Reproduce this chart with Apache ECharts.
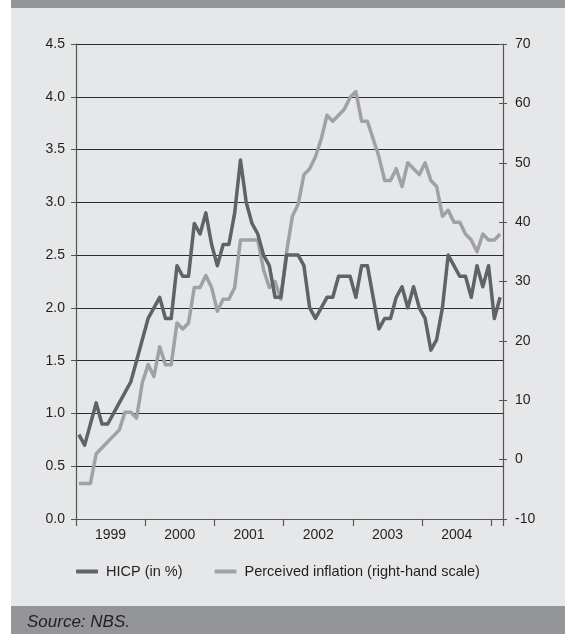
<!DOCTYPE html>
<html>
<head>
<meta charset="utf-8">
<script src="https://cdn.jsdelivr.net/npm/echarts@6/dist/echarts.min.js"></script>
<style>
html,body{margin:0;padding:0;background:#fff;}
#c{width:565px;height:634px;}
</style>
</head>
<body>
<div id="c"></div>
<script>
// Monthly data, Jan 1999 – Feb 2005
const years = [1999, 2000, 2001, 2002, 2003, 2004, 2005];
const months = [];
for (let i = 0; i < 74; i++) {
  const y = 1999 + Math.floor(i / 12);
  const m = (i % 12) + 1;
  months.push(y + '-' + (m < 10 ? '0' + m : m));
}
const hicp = [
  0.8, 0.7, 0.9, 1.1, 0.9, 0.9, 1.0, 1.1, 1.2, 1.3, 1.5, 1.7,
  1.9, 2.0, 2.1, 1.9, 1.9, 2.4, 2.3, 2.3, 2.8, 2.7, 2.9, 2.6,
  2.4, 2.6, 2.6, 2.9, 3.4, 3.0, 2.8, 2.7, 2.5, 2.4, 2.1, 2.1,
  2.5, 2.5, 2.5, 2.4, 2.0, 1.9, 2.0, 2.1, 2.1, 2.3, 2.3, 2.3,
  2.1, 2.4, 2.4, 2.1, 1.8, 1.9, 1.9, 2.1, 2.2, 2.0, 2.2, 2.0,
  1.9, 1.6, 1.7, 2.0, 2.5, 2.4, 2.3, 2.3, 2.1, 2.4, 2.2, 2.4,
  1.9, 2.1
];
const perceived = [
  -4, -4, -4, 1, 2, 3, 4, 5, 8, 8, 7, 13,
  16, 14, 19, 16, 16, 23, 22, 23, 29, 29, 31, 29,
  25, 27, 27, 29, 37, 37, 37, 37, 32, 29, 30, 27,
  35, 41, 43, 48, 49, 51, 54, 58, 57, 58, 59, 61,
  62, 57, 57, 54, 51, 47, 47, 49, 46, 50, 49, 48,
  50, 47, 46, 41, 42, 40, 40, 38, 37, 35, 38, 37,
  37, 38
];
const leftTicks = { min: 0, max: 4.5, interval: 0.5 };
const rightTicks = { min: -10, max: 70, interval: 10 };
const seriesNames = ['HICP (in %)', 'Perceived inflation (right-hand scale)'];
const sourceText = 'Source: NBS.';

const FONT = '"Liberation Sans", Arial, sans-serif';
const TXT = '#231f20';
const BG = '#e6e7e8';
const BAND = '#939598';
const DARK = '#616265';
const LIGHT = '#a0a1a4';

const chart = echarts.init(document.getElementById('c'), null, { renderer: 'canvas' });
chart.setOption({
  backgroundColor: '#ffffff',
  animation: false,
  textStyle: { fontFamily: FONT },
  graphic: [
    { type: 'rect', z: -10, shape: { x: 11, y: 0, width: 554, height: 634 }, style: { fill: BG } },
    { type: 'rect', z: -9, shape: { x: 11, y: 0, width: 554, height: 8 }, style: { fill: BAND } },
    { type: 'rect', z: -9, shape: { x: 11, y: 606, width: 554, height: 28 }, style: { fill: BAND } },
    { type: 'text', z: 10, left: 27, top: 614,
      style: { text: sourceText, fill: TXT, font: 'italic 17px ' + FONT } }
  ],
  legend: {
    data: seriesNames,
    left: 71,
    top: 559,
    itemWidth: 22,
    itemHeight: 4,
    itemGap: 32,
    icon: 'roundRect',
    textStyle: { fontSize: 14.5, color: TXT, fontFamily: FONT, padding: [0, 0, 0, 3] }
  },
  grid: { left: 76, right: 62, top: 44, bottom: 115, containLabel: false },
  xAxis: {
    type: 'category',
    data: months,
    boundaryGap: true,
    axisLine: { show: true, lineStyle: { color: '#555', width: 1.2 } },
    axisTick: { show: true, interval: 11, length: 7, lineStyle: { color: '#555', width: 1.2 } },
    axisLabel: {
      interval: (idx) => idx % 12 === 6,
      formatter: (v) => v.slice(0, 4),
      fontSize: 14, color: TXT, margin: 9, padding: [0, 6, 0, 0]
    },
    splitLine: { show: false }
  },
  yAxis: [
    {
      type: 'value', position: 'left',
      min: leftTicks.min, max: leftTicks.max, interval: leftTicks.interval,
      axisLine: { show: true, lineStyle: { color: '#555', width: 1.2 } },
      axisTick: { show: true, length: 5, lineStyle: { color: '#555' } },
      axisLabel: { fontSize: 14, color: TXT, margin: 11, formatter: (v) => v.toFixed(1) },
      splitLine: { show: true, lineStyle: { color: '#2b2b2b', width: 1 } }
    },
    {
      type: 'value', position: 'right',
      min: rightTicks.min, max: rightTicks.max, interval: rightTicks.interval,
      axisLine: { show: true, lineStyle: { color: '#555', width: 1.2 } },
      axisTick: { show: true, length: 4, lineStyle: { color: '#555' } },
      axisLabel: { fontSize: 14, color: TXT, margin: 12 },
      splitLine: { show: false }
    },
    {
      type: 'value', position: 'right',
      min: rightTicks.min, max: rightTicks.max, interval: rightTicks.interval,
      axisLine: { show: false },
      axisTick: { show: true, inside: true, length: 4, lineStyle: { color: '#555' } },
      axisLabel: { show: false },
      splitLine: { show: false }
    }
  ],
  series: [
    {
      name: seriesNames[0], type: 'line', yAxisIndex: 0, data: hicp,
      showSymbol: false, symbol: 'none', z: 3,
      lineStyle: { color: DARK, width: 3.5, join: 'round' },
      itemStyle: { color: DARK }
    },
    {
      name: seriesNames[1], type: 'line', yAxisIndex: 1, data: perceived,
      showSymbol: false, symbol: 'none', z: 2,
      lineStyle: { color: LIGHT, width: 3.5, join: 'round' },
      itemStyle: { color: LIGHT }
    }
  ]
});
</script>
</body>
</html>
